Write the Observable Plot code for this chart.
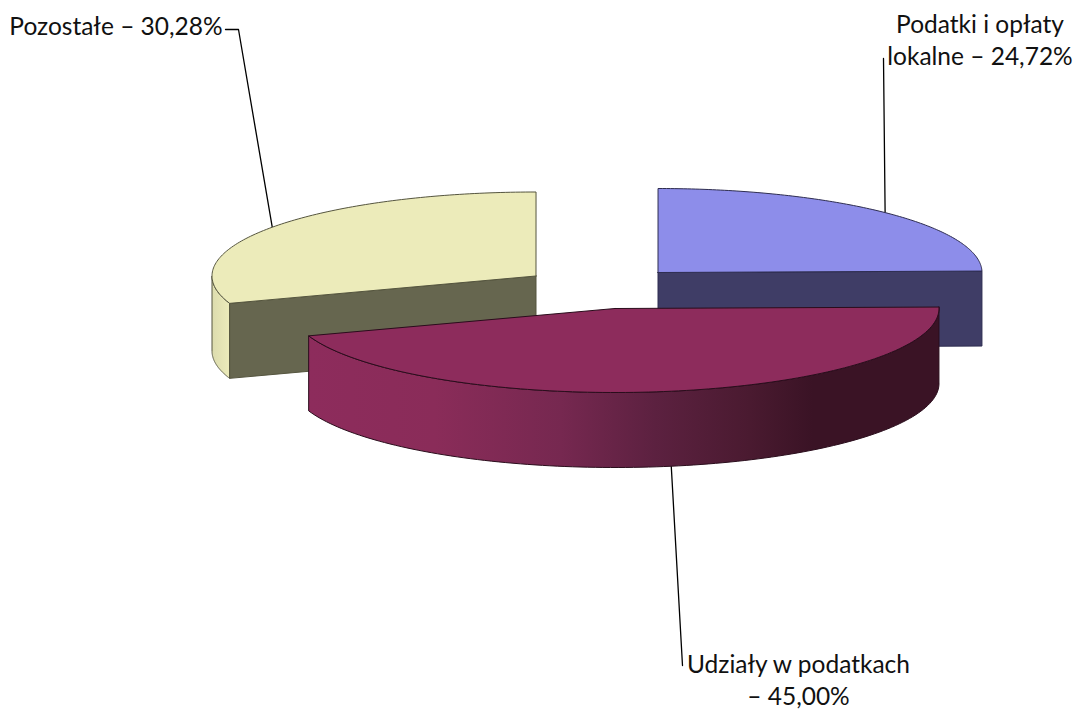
<!DOCTYPE html>
<html>
<head>
<meta charset="utf-8">
<script src="https://cdn.jsdelivr.net/npm/d3@7"></script>
<script src="https://cdn.jsdelivr.net/npm/@observablehq/plot@0.6"></script>
<style>html,body{margin:0;padding:0;background:#fff}svg{display:block}</style>
</head>
<body>
<div id="chart"></div>
<script>
const categories = ["Udziały w podatkach", "Pozostałe", "Podatki i opłaty lokalne"];
const shares = [45.00, 30.28, 24.72];
const labels = ["Udziały w podatkach\n– 45,00%", "Pozostałe – 30,28%", "Podatki i opłaty\nlokalne – 24,72%"];
const topColors = ["#8d2c5c", "#ecebba", "#8d8dea"];
const sideColors = ["url(#wallBurgundy)", "url(#wallYellow)", "#3f3d66"];
const edgeColors = ["#2a0d1c", "#55553f", "#2e2d50"];
const radialColors = ["#8d2c5c", "#66664f", "#3f3d66"];

const W = 1077, H = 709;
const centers = [[614.5, 308], [535.5, 275.5], [657.5, 272]]; // exploded slice centres
const RX = 324, RY = 84, DEPTH = 75, START = -1;
const elbows = [[[682, 665]], [[238, 29], [225, 29]], [[883, 58]]];
const labelPos = [[798, 678], [115.5, 24], [979.5, 38]];

let cum = 0;
const slices = shares.map((v, i) => {
  const a0 = START + cum / 100 * 360; cum += v; const a1 = START + cum / 100 * 360;
  return {i, a0, a1, mid: (a0 + a1) / 2, c: centers[i]};
});
const pt = (s, deg, dz = 0) => {
  const r = deg * Math.PI / 180;
  return {x: s.c[0] + RX * Math.cos(r), y: s.c[1] + RY * Math.sin(r) + dz};
};
const arc = (s, from, to, dz = 0) => d3.range(0, 121).map(k => pt(s, from + (to - from) * k / 120, dz));
const centre = (s, dz = 0) => ({x: s.c[0], y: s.c[1] + dz});
const closed = pts => [...pts, pts[0]];
const shape = (pts, fill, stroke, strokeWidth = 1) =>
  Plot.line(closed(pts), {x: "x", y: "y", fill, stroke, strokeWidth, curve: "linear", strokeLinejoin: "round"});

const topFace = s => shape([centre(s), ...arc(s, s.a0, s.a1)], topColors[s.i], edgeColors[s.i]);
const radialWall = (s, deg) => shape([centre(s), pt(s, deg), pt(s, deg, DEPTH), centre(s, DEPTH)], radialColors[s.i], edgeColors[s.i]);
const outerWall = (s, from, to) => shape([...arc(s, from, to), ...arc(s, to, from, DEPTH)], sideColors[s.i], edgeColors[s.i]);

const [burgundy, yellow, blue] = slices;

const defs = () => {
  const d = d3.create("svg:defs");
  const grad = (id, stops) => {
    const g = d.append("linearGradient").attr("id", id);
    stops.forEach(([o, c]) => g.append("stop").attr("offset", o).attr("stop-color", c));
  };
  grad("wallBurgundy", [[0, "#8d2c5c"], [0.2, "#8a2c59"], [0.4, "#762850"], [0.55, "#5c2140"], [0.7, "#4a1a30"], [0.8, "#3a1325"], [1, "#3a1325"]]);
  grad("wallYellow", [[0, "#dcdcae"], [1, "#ecebba"]]);
  return d.node();
};

const leaders = slices.map(s => {
  const p = s.i === 0 ? pt(s, s.mid, DEPTH) : pt(s, s.mid);
  return [p, ...elbows[s.i].map(([x, y]) => ({x, y}))];
});

const plot = Plot.plot({
  width: W, height: H, margin: 0,
  x: {domain: [0, W], range: [0, W], axis: null},
  y: {domain: [0, H], range: [0, H], axis: null},
  marks: [
    defs,
    ...leaders.map(l => Plot.line(l, {x: "x", y: "y", stroke: "#000", strokeWidth: 1.3})),
    outerWall(yellow, yellow.a0, 180),
    radialWall(yellow, yellow.a0),
    topFace(yellow),
    radialWall(blue, blue.a1),
    topFace(blue),
    outerWall(burgundy, burgundy.a0, burgundy.a1),
    topFace(burgundy),
    Plot.text(labels, {
      x: (d, i) => labelPos[i][0], y: (d, i) => labelPos[i][1],
      text: d => d, textAnchor: "middle", lineAnchor: "middle", lineHeight: 1.3,
      fontSize: 24.5, fontFamily: "Lato", fill: "#111"
    })
  ]
});
document.getElementById("chart").append(plot);
</script>
</body>
</html>
